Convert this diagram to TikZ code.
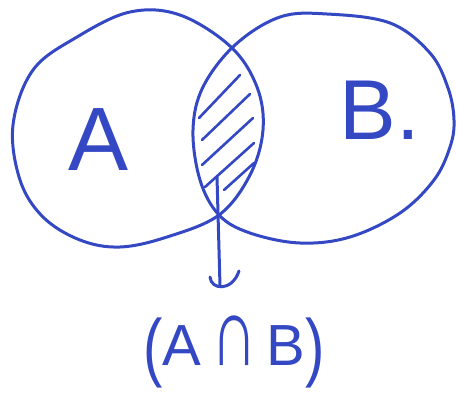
\documentclass[tikz,border=0pt]{standalone}
\usepackage{fontspec}
\usepackage{graphicx}
\setmainfont{Liberation Sans}
\definecolor{pen}{RGB}{52,72,196}
\tikzset{
  ink/.style={draw=pen, line width=3pt, line cap=round, line join=round},
  hatch/.style={draw=pen, line width=2.6pt, line cap=round},
  lbl/.style={text=pen, inner sep=0pt},
}
\begin{document}
\begin{tikzpicture}[x=1pt,y=-1pt]
\useasboundingbox (0,0) rectangle (457,394);
% set A
\path[ink] plot[smooth cycle, tension=0.6] coordinates {
  (13,125) (20,180) (43,217) (80,240) (120,247) (167,237) (219,215)
  (250,175) (263,130) (257,87) (231,47) (180,15) (130,12) (77,37) (33,70)};
% set B
\path[ink] plot[smooth cycle, tension=0.6] coordinates {
  (193,130) (200,180) (219,215) (250,233) (300,243) (350,237) (400,213)
  (434,180) (450,147) (454,120) (448,88) (430,53) (390,23) (327,14)
  (280,17) (235,45) (203,87)};
% hatching of the intersection
\draw[hatch] (199,118) -- (240,75);
\draw[hatch] (202,140) -- (250,94);
\draw[hatch] (202,165) -- (253,118);
\draw[hatch] (205,187) -- (254,143);
\draw[hatch] (224,190) -- (254,163);
% pointer
\coordinate (top) at (217,177);
\coordinate (foot) at (220,286);
\draw[ink] (top) -- (foot);
\coordinate (hl) at (210,277);
\coordinate (hr) at (239,271);
\draw[ink] (hl) .. controls (211,290) and (232,292) .. (hr);
% labels
\node[lbl, font=\fontsize{90}{90}\selectfont] (la) at (99,140) {A};
\node[lbl, font=\fontsize{85}{85}\selectfont] (lb) at (380,110) {B.};
\node[lbl, font=\fontsize{58}{58}\selectfont] (lab) at (234,352)
  {\raisebox{-0.12em}{\scalebox{1}[1.3]{(}}A\,\scalebox{1.1}[1.7]{∩}\,B\raisebox{-0.12em}{\scalebox{1}[1.3]{)}}};
\end{tikzpicture}
\end{document}
